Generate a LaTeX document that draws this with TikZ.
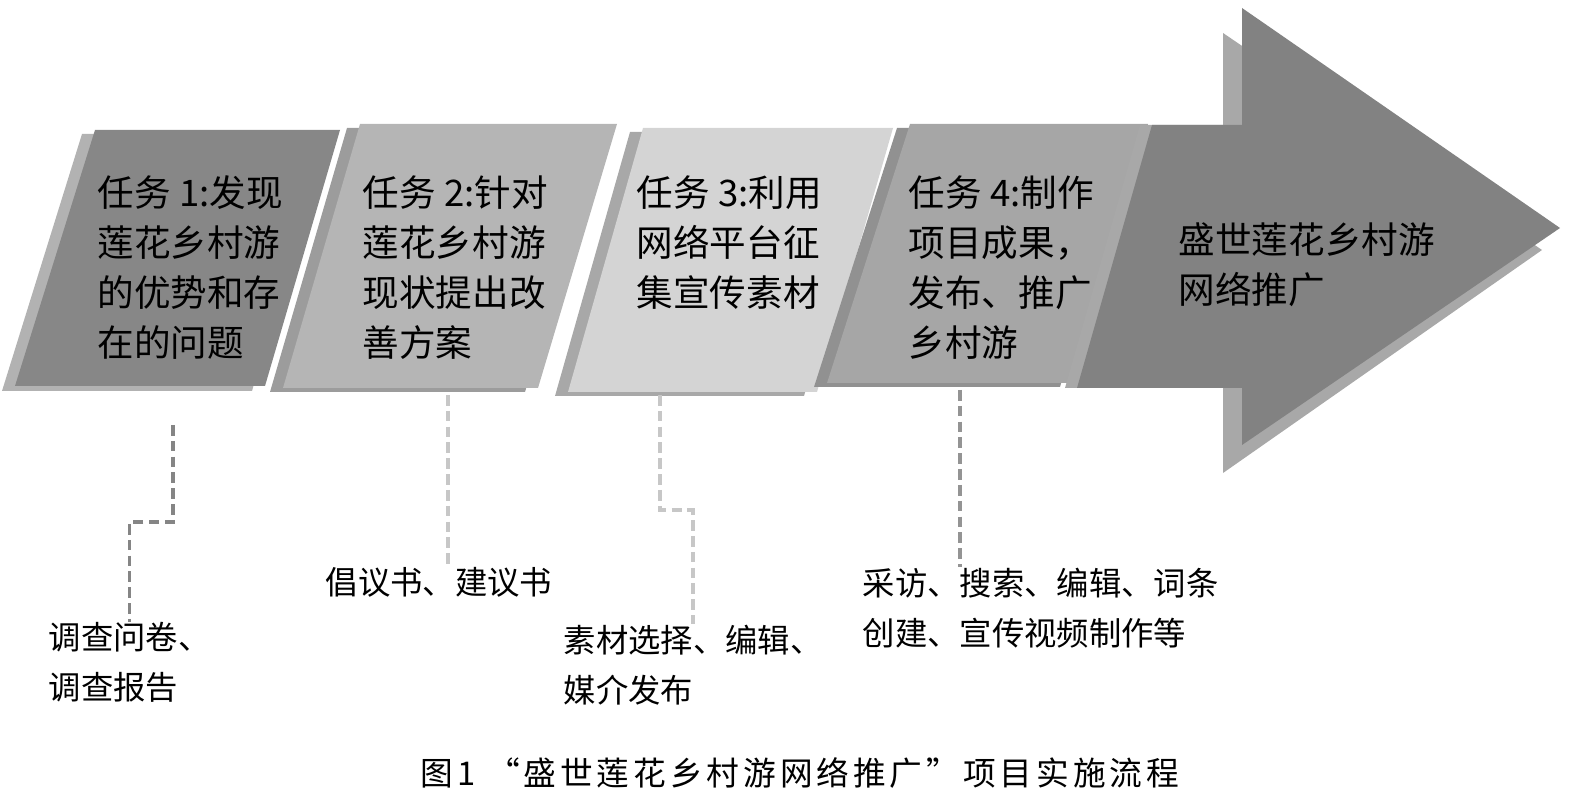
\documentclass[tikz,border=0pt]{standalone}
\usepackage{fontspec}
\setmainfont{Noto Sans CJK SC}
\newfontfamily\capfont[LetterSpace=12]{Noto Sans CJK SC}
\usepackage{xcolor}
\usetikzlibrary{math}

\definecolor{faceA}{gray}{0.53}
\definecolor{faceB}{gray}{0.71}
\definecolor{faceC}{gray}{0.83}
\definecolor{faceD}{gray}{0.65}
\definecolor{faceE}{gray}{0.51}
\definecolor{shadeA}{gray}{0.70}
\definecolor{shadeB}{gray}{0.61}
\definecolor{shadeC}{gray}{0.66}
\definecolor{shadeD}{gray}{0.57}
\definecolor{shadeE}{gray}{0.66}
\definecolor{leadDark}{gray}{0.52}
\definecolor{leadLight}{gray}{0.78}
\definecolor{leadMid}{gray}{0.58}

\begin{document}
\begin{tikzpicture}[x=0.01cm,y=-0.01cm,
  task/.style={anchor=north west,inner sep=0,align=left,font=\fontsize{10.4}{14.2}\selectfont},
  result/.style={anchor=north west,inner sep=0,align=left,font=\fontsize{9.2}{14.2}\selectfont},
  lead/.style={line width=1pt,dash pattern=on 3pt off 1.5pt}]
\tikzmath{
\dx=-13;
\dy=4;
}
\useasboundingbox (0,0) rectangle (1574,807);

% task 1
\fill[shadeA] (95+\dx,130+\dy)--(340+\dx,130+\dy)--(265+\dx,387+\dy)--(15+\dx,387+\dy)--cycle;
\fill[faceA] (95,130)--(340,130)--(265,386)--(15,386)--cycle;
% task 2
\fill[shadeB] (360+\dx,124+\dy)--(617+\dx,124+\dy)--(538+\dx,388+\dy)--(283+\dx,388+\dy)--cycle;
\fill[faceB] (360,124)--(617,124)--(538,388)--(283,388)--cycle;
% task 3
\fill[shadeC] (643+\dx,128+\dy)--(893+\dx,128+\dy)--(817+\dx,392+\dy)--(568+\dx,392+\dy)--cycle;
\fill[faceC] (643,128)--(893,128)--(817,392)--(568,392)--cycle;
% task 4
\fill[shadeD] (910+\dx,124+\dy)--(1148+\dx,124+\dy)--(1073+\dx,383+\dy)--(827+\dx,383+\dy)--cycle;
\fill[faceD] (910,124)--(1148,124)--(1073,383)--(827,383)--cycle;
% big arrow
\fill[shadeE] (1140,125)--(1223,125)--(1223,33)--(1542,250)--(1223,473)--(1223,388)--(1065,388)--cycle;
\fill[faceE] (1152,125)--(1242,125)--(1242,8)--(1560,228)--(1242,445)--(1242,388)--(1077,388)--cycle;

\node[task] (t1) at (97,175) {任务 1:发现\\莲花乡村游\\的优势和存\\在的问题};
\node[task] (t2) at (362,175) {任务 2:针对\\莲花乡村游\\现状提出改\\善方案};
\node[task] (t3) at (636,175) {任务 3:利用\\网络平台征\\集宣传素材};
\node[task] (t4) at (908,175) {任务 4:制作\\项目成果，\\发布、推广\\乡村游};
\node[task] (goal) at (1178,222) {盛世莲花乡村游\\网络推广};

\node[result] (r1) at (48,622) {调查问卷、\\调查报告};
\node[result] (r2) at (325,567) {倡议书、建议书};
\node[result] (r3) at (563,624) {素材选择、编辑、\\媒介发布};
\node[result] (r4) at (862,567) {采访、搜索、编辑、词条\\创建、宣传视频制作等};

\coordinate (c1) at (173,425);
\coordinate (c2) at (448,395);
\coordinate (c3) at (660,395);
\coordinate (c4) at (960,390);
\draw[lead,leadDark] (c1)--++(0,97) -| (r1.north);
\draw[lead,leadLight] (c2)--(c2 |- r2.north);
\draw[lead,leadLight] (c3)--++(0,115) -| (r3.north);
\draw[lead,leadMid] (c4)--(c4 |- r4.north);

\node[font=\fontsize{9.3}{10}\capfont] (cap) at (800,773) {图1 “盛世莲花乡村游网络推广”项目实施流程};
\end{tikzpicture}
\end{document}
